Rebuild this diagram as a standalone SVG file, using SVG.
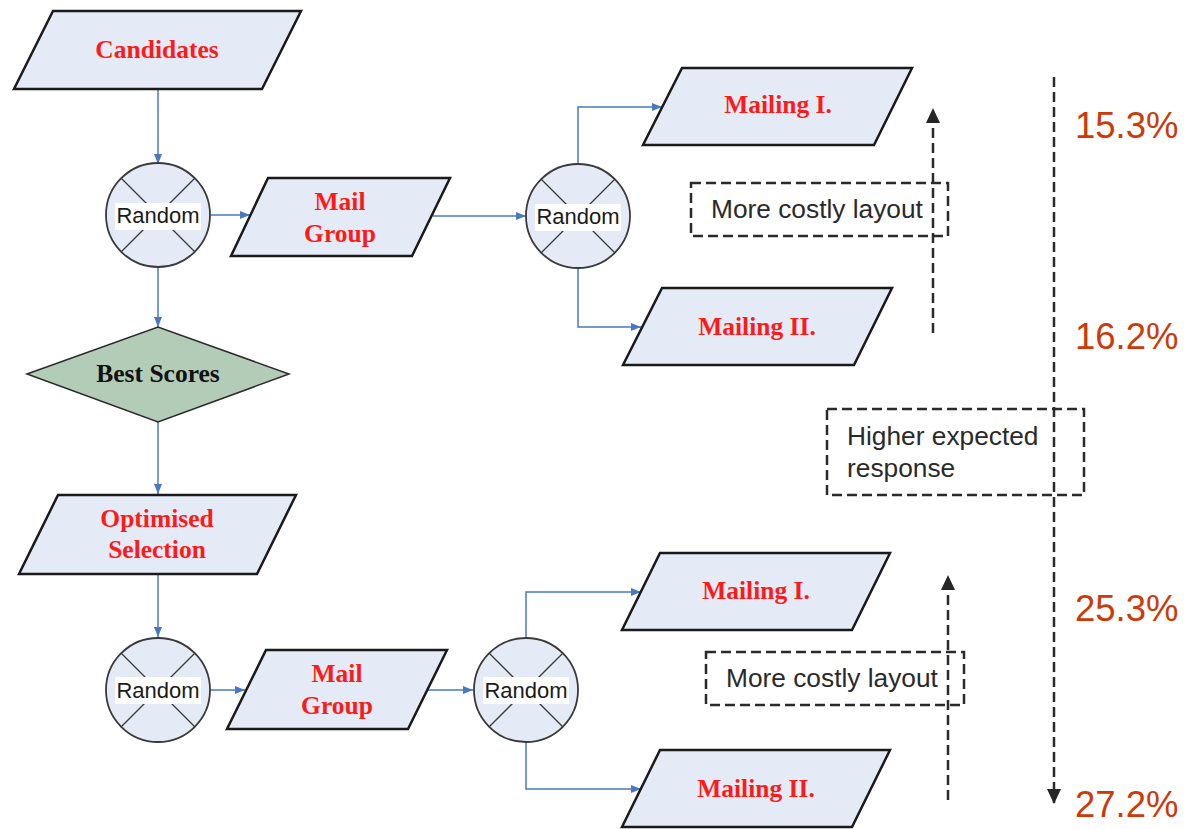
<svg xmlns="http://www.w3.org/2000/svg" width="1188" height="829" viewBox="0 0 1188 829">
<defs>
<marker id="ab" markerUnits="userSpaceOnUse" markerWidth="10" markerHeight="8" refX="10" refY="4" orient="auto"><path d="M0,0 L10,4 L0,8 z" fill="#4a78c0"/></marker>
<marker id="ak" markerUnits="userSpaceOnUse" markerWidth="15" markerHeight="14" refX="14" refY="7" orient="auto"><path d="M0,0 L15,7 L0,14 z" fill="#262626"/></marker>
<style>
.para{fill:#e5ebf6;stroke:#1a1a1a;stroke-width:2.5;stroke-linejoin:miter}
.lbl{font-family:"Liberation Serif","Times New Roman",serif;font-weight:bold;font-size:25.5px;fill:#ff1a1a;text-anchor:middle}
.circ{fill:#e5ebf6;stroke:#3a3a3a;stroke-width:1.8}
.xl{stroke:#3a3a3a;stroke-width:1.3}
.rt{font-family:"Liberation Sans",Arial,sans-serif;font-size:22px;fill:#1a1a1a;text-anchor:middle}
.wb{fill:#ffffff}
.con{fill:none;stroke:#4a78c0;stroke-width:1.5;marker-end:url(#ab)}
.dash{fill:none;stroke:#2a2a2a;stroke-width:2.5;stroke-dasharray:10 5}
.dt{font-family:"Liberation Sans",Arial,sans-serif;font-size:26.3px;fill:#2a2a2a}
.pct{font-family:"Liberation Sans",Arial,sans-serif;font-size:36.5px;fill:#cc3a0a}
</style>
</defs>
<rect width="1188" height="829" fill="#ffffff"/>

<g id="connectors">
<path class="con" d="M158,89 L158,164"/>
<path class="con" d="M211,215 L250,215"/>
<path class="con" d="M158,267 L158,327"/>
<path class="con" d="M158,422 L158,494"/>
<path class="con" d="M433,216 L526,216"/>
<path class="con" d="M578,164 L578,107 L662,107"/>
<path class="con" d="M578,268 L578,327 L641,327"/>
<path class="con" d="M158,574 L158,637"/>
<path class="con" d="M210,690 L245,690"/>
<path class="con" d="M428,690 L473,690"/>
<path class="con" d="M526,637 L526,592 L641,592"/>
<path class="con" d="M526,742 L526,789 L641,789"/>
</g>

<g id="candidates">
<polygon class="para" points="53,11 301,11 262,89 14,89"/>
<text class="lbl" x="157" y="58">Candidates</text>
</g>

<g id="random1">
<circle class="circ" cx="158" cy="215" r="52"/>
<line class="xl" x1="121" y1="178" x2="195" y2="252"/>
<line class="xl" x1="195" y1="178" x2="121" y2="252"/>
<rect class="wb" x="115" y="203" width="86" height="27"/>
<text class="rt" x="158" y="223">Random</text>
</g>

<g id="mailgroup1">
<polygon class="para" points="268,178 450,178 412,256 231,256"/>
<text class="lbl" x="340" y="210">Mail</text>
<text class="lbl" x="340" y="242">Group</text>
</g>

<g id="random2">
<circle class="circ" cx="578" cy="216" r="52"/>
<line class="xl" x1="541" y1="179" x2="615" y2="253"/>
<line class="xl" x1="615" y1="179" x2="541" y2="253"/>
<rect class="wb" x="535" y="204" width="86" height="27"/>
<text class="rt" x="578" y="224">Random</text>
</g>

<g id="mailing1a">
<polygon class="para" points="682,68 912,68 874,145 643,145"/>
<text class="lbl" x="778" y="113">Mailing I.</text>
</g>

<g id="mailing2a">
<polygon class="para" points="662,288 892,288 854,365 623,365"/>
<text class="lbl" x="757" y="335">Mailing II.</text>
</g>

<g id="bestscores">
<polygon points="27,374 158,327 289,374 158,422" fill="#b2ccb8" stroke="#2a2a2a" stroke-width="1.5"/>
<text class="lbl" x="158" y="382" style="fill:#111111">Best Scores</text>
</g>

<g id="optimised">
<polygon class="para" points="58,495 296,495 257,574 19,574"/>
<text class="lbl" x="157" y="527">Optimised</text>
<text class="lbl" x="157" y="558">Selection</text>
</g>

<g id="random3">
<circle class="circ" cx="158" cy="690" r="52"/>
<line class="xl" x1="121" y1="653" x2="195" y2="727"/>
<line class="xl" x1="195" y1="653" x2="121" y2="727"/>
<rect class="wb" x="115" y="677" width="86" height="27"/>
<text class="rt" x="158" y="698">Random</text>
</g>

<g id="mailgroup2">
<polygon class="para" points="266,650 447,650 408,729 227,729"/>
<text class="lbl" x="337" y="682">Mail</text>
<text class="lbl" x="337" y="714">Group</text>
</g>

<g id="random4">
<circle class="circ" cx="526" cy="690" r="52"/>
<line class="xl" x1="489" y1="653" x2="563" y2="727"/>
<line class="xl" x1="563" y1="653" x2="489" y2="727"/>
<rect class="wb" x="483" y="677" width="86" height="27"/>
<text class="rt" x="526" y="698">Random</text>
</g>

<g id="mailing1b">
<polygon class="para" points="660,553 890,553 852,630 622,630"/>
<text class="lbl" x="756" y="599">Mailing I.</text>
</g>

<g id="mailing2b">
<polygon class="para" points="660,750 890,750 852,827 622,827"/>
<text class="lbl" x="756" y="797">Mailing II.</text>
</g>

<g id="costly1">
<rect class="dash" x="691" y="183" width="257" height="53"/>
<text class="dt" x="711" y="218">More costly layout</text>
</g>

<g id="costly2">
<rect class="dash" x="706" y="652" width="258" height="53"/>
<text class="dt" x="726" y="687">More costly layout</text>
</g>

<g id="higher">
<rect class="dash" x="827" y="409" width="257" height="86"/>
<text class="dt" x="847" y="445">Higher expected</text>
<text class="dt" x="847" y="477">response</text>
</g>

<g id="dashed-arrows">
<path class="dash" d="M933,333 L933,109" marker-end="url(#ak)"/>
<path class="dash" d="M948,800 L948,576" marker-end="url(#ak)"/>
<path class="dash" d="M1054,77 L1054,803" marker-end="url(#ak)"/>
</g>

<g id="percentages">
<text class="pct" x="1075" y="138">15.3%</text>
<text class="pct" x="1075" y="349">16.2%</text>
<text class="pct" x="1075" y="621">25.3%</text>
<text class="pct" x="1075" y="817">27.2%</text>
</g>
</svg>
